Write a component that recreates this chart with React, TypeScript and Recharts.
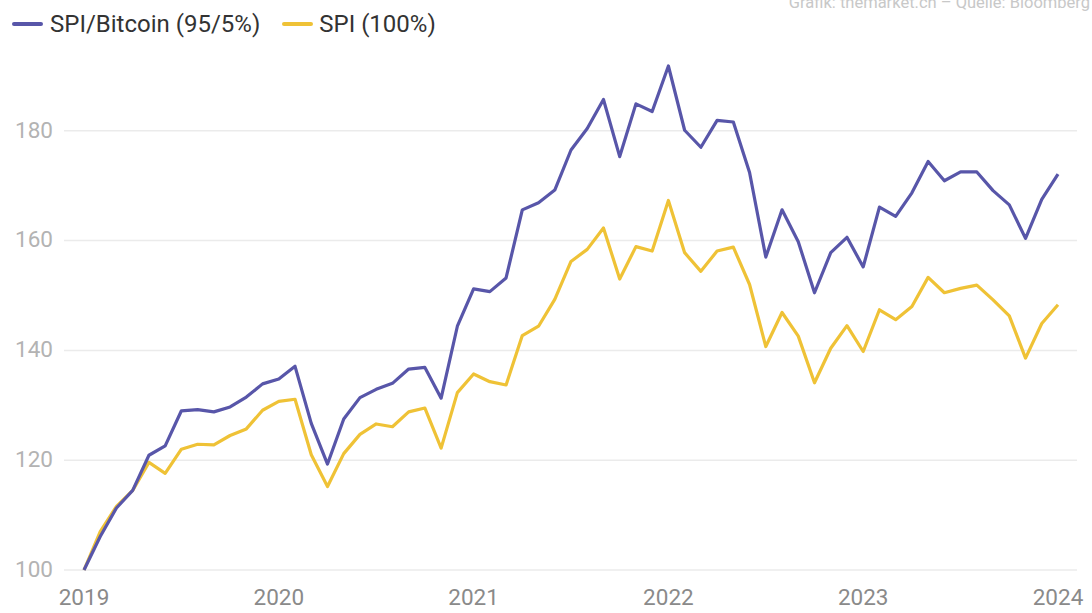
import { LineChart, Line, XAxis, YAxis, CartesianGrid } from "recharts";

const years = ["2019", "2020", "2021", "2022", "2023", "2024"];

const spiBitcoin = [
  100, 106.1, 111.3, 114.5, 120.9, 122.6, 129.0, 129.2, 128.8, 129.7, 131.5, 133.9,
  134.8, 137.1, 126.7, 119.3, 127.5, 131.4, 132.9, 134.0, 136.6, 136.9, 131.3, 144.4,
  151.2, 150.7, 153.2, 165.6, 166.9, 169.2, 176.5, 180.4, 185.7, 175.3, 184.9, 183.5,
  191.8, 180.1, 177.0, 181.9, 181.6, 172.4, 157.0, 165.6, 159.8, 150.5, 157.8, 160.6,
  155.2, 166.1, 164.4, 168.7, 174.4, 170.9, 172.5, 172.5, 169.1, 166.5, 160.4, 167.5,
  172.1,
];

const spi = [
  100, 107.0, 111.6, 114.5, 119.6, 117.6, 122.0, 122.9, 122.8, 124.5, 125.7, 129.1,
  130.7, 131.1, 121.0, 115.2, 121.2, 124.7, 126.6, 126.1, 128.8, 129.5, 122.2, 132.3,
  135.7, 134.3, 133.7, 142.7, 144.4, 149.3, 156.2, 158.4, 162.3, 153.0, 158.9, 158.1,
  167.3, 157.8, 154.4, 158.1, 158.8, 152.0, 140.7, 146.9, 142.6, 134.1, 140.4, 144.5,
  139.8, 147.4, 145.6, 148.0, 153.3, 150.5, 151.3, 151.9, 149.2, 146.3, 138.6, 144.9,
  148.3,
];

const yTicks = [100, 120, 140, 160, 180];

// monthly categories, Jan 2019 .. Jan 2024
const months = spi.map((_, i) => {
  const y = Number(years[0]) + Math.floor(i / 12);
  const m = (i % 12) + 1;
  return `${y}-${m < 10 ? "0" + m : m}`;
});
const xTicks = years.map((y) => `${y}-01`);

const data = months.map((month, i) => ({
  month,
  spiBitcoin: spiBitcoin[i],
  spi: spi[i],
}));

const BLUE = "#5856a9";
const YELLOW = "#efc236";
const FONT = "Roboto, 'Noto Sans', sans-serif";

const YTick = (props: any) => {
  const { y, payload } = props;
  return (
    <text x={53} y={y} dy="0.3em" textAnchor="end" fill="#b3b3b3" fontSize={22.5} fontFamily={FONT}>
      {payload.value}
    </text>
  );
};

const XTick = (props: any) => {
  const { x, y, payload } = props;
  return (
    <text x={x} y={y + 27} textAnchor="middle" fill="#8a8a8a" fontSize={22.5} fontFamily={FONT}>
      {String(payload.value).slice(0, 4)}
    </text>
  );
};

export default function App() {
  return (
    <div style={{ position: "absolute", left: 0, top: 0, width: 1092, height: 613, background: "#fff", fontFamily: FONT, overflow: "hidden" }}>
      <div style={{ position: "absolute", right: 2, top: -7, fontSize: 16.5, lineHeight: "19px", color: "#c8c8c8", whiteSpace: "nowrap" }}>
        Grafik: themarket.ch – Quelle: Bloomberg
      </div>
      <div style={{ position: "absolute", left: 12, top: 10, display: "flex", alignItems: "center", fontSize: 24, color: "#333" }}>
        <span style={{ width: 31, height: 4, background: BLUE, borderRadius: 2, marginRight: 7 }} />
        <span style={{ marginRight: 22 }}>SPI/Bitcoin (95/5%)</span>
        <span style={{ width: 31, height: 4, background: YELLOW, borderRadius: 2, marginRight: 6 }} />
        <span>SPI (100%)</span>
      </div>
      <LineChart width={1092} height={613} data={data} margin={{ top: 66, right: 34, bottom: 0, left: 0 }} style={{ position: "absolute", left: 0, top: 0 }}>
        <CartesianGrid vertical={false} horizontalValues={yTicks} stroke="#ebebeb" strokeWidth={1.5} x={64} width={1013} />
        <XAxis dataKey="month" ticks={xTicks} interval={0} tickLine={false} axisLine={false} height={43} tick={<XTick />} />
        <YAxis domain={[100, "dataMax"]} ticks={yTicks} width={84} tickLine={false} axisLine={false} tick={<YTick />} />
        <Line type="linear" dataKey="spi" stroke={YELLOW} strokeWidth={3.2} dot={false} isAnimationActive={false} strokeLinejoin="round" />
        <Line type="linear" dataKey="spiBitcoin" stroke={BLUE} strokeWidth={3.2} dot={false} isAnimationActive={false} strokeLinejoin="round" />
      </LineChart>
    </div>
  );
}
